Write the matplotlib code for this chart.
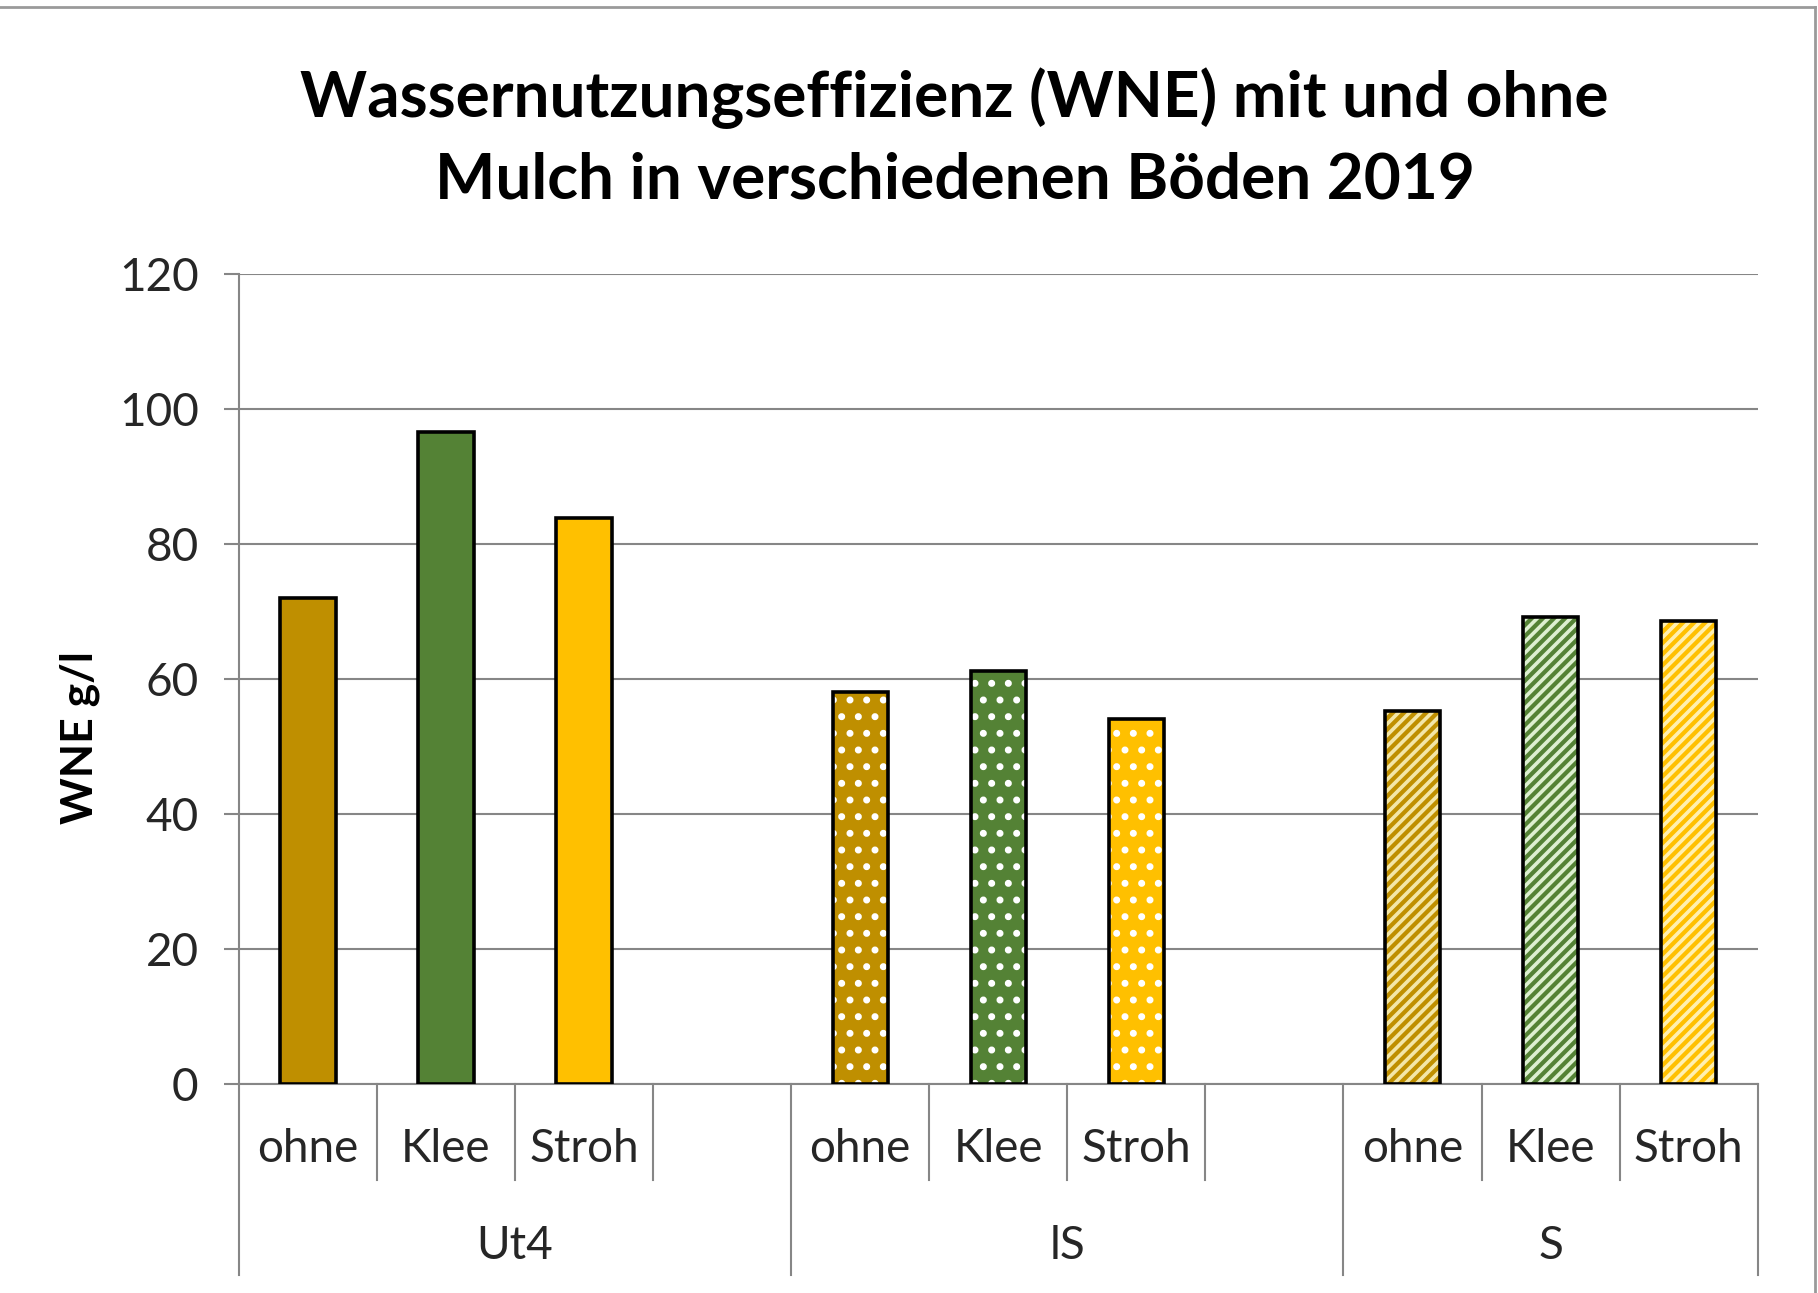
import matplotlib.pyplot as plt
from matplotlib.lines import Line2D
import matplotlib.transforms as mtransforms

plt.rcParams['font.family'] = ['Lato', 'DejaVu Sans']
plt.rcParams['hatch.linewidth'] = 2.6

# Data
soils = ['Ut4', 'lS', 'S']
mulch = ['ohne', 'Klee', 'Stroh']
wne = {
    'Ut4': [72, 96.5, 83.8],
    'lS': [58, 61.2, 54.1],
    'S': [55.3, 69.2, 68.5],
}
y_ticks = [0, 20, 40, 60, 80, 100, 120]

colors = ['#BF8F00', '#548235', '#FFC000']
stripe_colors = ['#F3E6A8', '#DDEFD0', '#FFF0B0']
hatches = {'Ut4': None, 'lS': '.', 'S': '///'}

fig = plt.figure(figsize=(18.18, 12.93), dpi=100)
ax = fig.add_axes([0.1314, 0.1616, 0.8354, 0.6268])

bar_w = 0.4
grey = '#868686'
txt = '#262626'
trans = mtransforms.blended_transform_factory(ax.transData, ax.transAxes)

# each soil group has 4 slots (last one empty), except the last group
slot = 0
group_bounds = [0]
cat_bounds = []
for gi, soil in enumerate(soils):
    for mi, name in enumerate(mulch):
        x = slot + 0.5
        v = wne[soil][mi]
        h = hatches[soil]
        if h is None:
            ax.bar(x, v, width=bar_w, color=colors[mi], edgecolor='black',
                   linewidth=2.6, zorder=3)
        else:
            hc = 'white' if h == '.' else stripe_colors[mi]
            ax.bar(x, v, width=bar_w, color=colors[mi], edgecolor=hc,
                   linewidth=0, hatch=h, zorder=3)
            ax.bar(x, v, width=bar_w, fill=False, edgecolor='black',
                   linewidth=2.6, zorder=4)
        ax.text(x, -0.08, name, transform=trans,
                ha='center', va='center', fontsize=33, color=txt)
        slot += 1
        cat_bounds.append(slot)
    if gi < len(soils) - 1:
        slot += 1
    group_bounds.append(slot)
    mid = (group_bounds[-2] + group_bounds[-1]) / 2
    ax.text(mid, -0.2, soil, transform=trans,
            ha='center', va='center', fontsize=33, color=txt)

for b in cat_bounds:
    if b not in group_bounds:
        ax.add_line(Line2D([b, b], [0, -0.119], transform=trans, color=grey,
                           linewidth=1.5, clip_on=False))
for b in group_bounds:
    ax.add_line(Line2D([b, b], [0, -0.235], transform=trans, color=grey,
                       linewidth=1.5, clip_on=False))

ax.set_xlim(0, slot)
ax.set_ylim(0, 120)
ax.set_yticks(y_ticks)
ax.set_xticks([])
ax.yaxis.grid(True, color=grey, linewidth=1.5, zorder=0)
ax.set_axisbelow(True)
for s in ['top', 'right']:
    ax.spines[s].set_visible(False)
ax.spines['left'].set_color(grey)
ax.spines['bottom'].set_color(grey)
ax.spines['left'].set_linewidth(1.5)
ax.spines['bottom'].set_linewidth(1.5)
ax.tick_params(axis='y', labelsize=33, labelcolor=txt, color=grey,
               length=11, width=1.5, pad=18)

ax.text(-0.105, 0.428, 'WNE g/l', transform=ax.transAxes, rotation=90,
        ha='center', va='center', fontsize=32, fontweight='bold')

fig.text(0.525, 0.9238, 'Wassernutzungseffizienz (WNE) mit und ohne',
         ha='center', va='center', fontsize=46, fontweight='bold')
fig.text(0.525, 0.861, 'Mulch in verschiedenen Böden 2019',
         ha='center', va='center', fontsize=46, fontweight='bold')

# outer frame (top and right edges visible)
fig.add_artist(Line2D([0, 0.9985], [0.9946, 0.9946], color='#9a9a9a', linewidth=2))
fig.add_artist(Line2D([0.9985, 0.9985], [0, 0.9946], color='#9a9a9a', linewidth=2))

plt.savefig('out.png', dpi=100)
